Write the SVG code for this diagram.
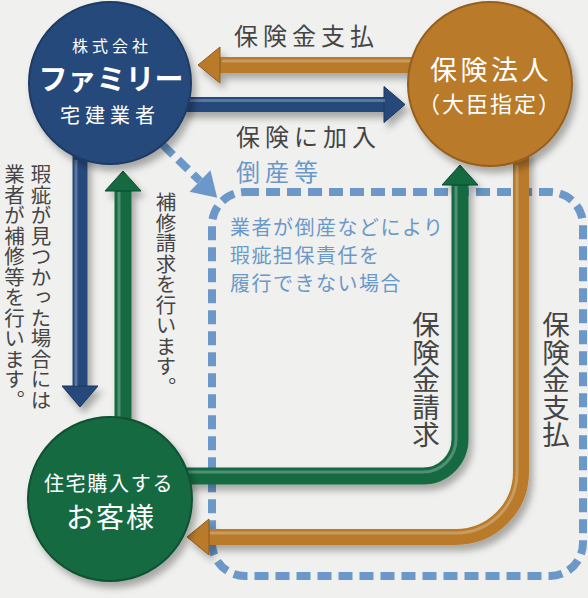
<svg xmlns="http://www.w3.org/2000/svg" width="588" height="598" viewBox="0 0 588 598">
<style>
text{font-family:"Noto Sans CJK JP","Noto Sans",sans-serif}
.lbl{fill:#454545;font-size:24px;letter-spacing:5px}
.blu{fill:#6b98c9}
.wht{fill:#ffffff;text-anchor:middle}
.vert{writing-mode:vertical-rl;fill:#454545}
.dash{fill:none;stroke:#6b98c9;stroke-width:8;stroke-dasharray:14 7}
.t-or{fill:none;stroke:#b97a2b;stroke-width:16}
.t-bl{fill:none;stroke:#284a7c;stroke-width:15}
.t-gr{fill:none;stroke:#146a42;stroke-width:17}
.hl{fill:none;stroke:#ffffff;stroke-opacity:0.25;stroke-width:3}
</style>
<defs>
<filter id="sh" x="-20%" y="-20%" width="150%" height="150%">
<feDropShadow dx="4" dy="6" stdDeviation="3.5" flood-color="#000" flood-opacity="0.3"/>
</filter>
<marker id="ah-or" markerUnits="userSpaceOnUse" orient="auto" refX="0" refY="0" markerWidth="30" markerHeight="40" overflow="visible">
<path d="M-1,-18 L21,0 L-1,18 z" fill="#b97a2b" stroke="#8a5a1c" stroke-width="1"/>
</marker>
<marker id="ah-bl" markerUnits="userSpaceOnUse" orient="auto" refX="0" refY="0" markerWidth="30" markerHeight="40" overflow="visible">
<path d="M-1,-18 L20,0 L-1,18 z" fill="#284a7c" stroke="#1b3458" stroke-width="1"/>
</marker>
<marker id="ah-gr" markerUnits="userSpaceOnUse" orient="auto" refX="0" refY="0" markerWidth="30" markerHeight="40" overflow="visible">
<path d="M-1,-18 L19,0 L-1,18 z" fill="#146a42" stroke="#0d4a2d" stroke-width="1"/>
</marker>
<marker id="ah-da" markerUnits="userSpaceOnUse" orient="auto" refX="0" refY="0" markerWidth="30" markerHeight="40" overflow="visible">
<path d="M0,-15 L24,0 L0,15 z" fill="#6b98c9"/>
</marker>
</defs>
<rect width="588" height="598" fill="#f0f0ee"/>

<g id="connectors">
<rect class="dash" x="212" y="192" width="371" height="384" rx="33"/>
<path class="dash" stroke-width="9" d="M163 145 L200 181" marker-end="url(#ah-da)"/>
<g filter="url(#sh)">
<path class="t-or" d="M420 65 H219" marker-end="url(#ah-or)"/>
<path class="t-bl" d="M180 104.5 H385" marker-end="url(#ah-bl)"/>
<path class="t-bl" stroke-width="16" d="M80 150 V387" marker-end="url(#ah-bl)"/>
<path class="t-gr" d="M123 430 V190" marker-end="url(#ah-gr)"/>
<path class="t-gr" stroke-width="16" d="M180 476 H423 A37 37 0 0 0 460 439 V184" marker-end="url(#ah-gr)"/>
<path class="t-or" d="M521 150 V472 A65 65 0 0 1 456 537 H208" marker-end="url(#ah-or)"/>
</g>
<path class="hl" d="M420 61 H222"/>
<path class="hl" d="M180 100.5 H385"/>
<path class="hl" d="M76 160 V386"/>
<path class="hl" d="M119 430 V192"/>
<path class="hl" d="M180 472 H423 A33 33 0 0 0 456 439 V186"/>
<path class="hl" d="M517 165 V472 A61 61 0 0 1 456 533 H210"/>
</g>

<g id="node-family">
<circle cx="110" cy="83" r="81" fill="#284a7c" stroke="#1d3a64" stroke-width="2" filter="url(#sh)"/>
<text class="wht" x="112" y="52" font-size="16" letter-spacing="4">株式会社</text>
<text class="wht" x="111" y="90" font-size="29" font-weight="bold">ファミリー</text>
<text class="wht" x="110" y="123" font-size="20" letter-spacing="5">宅建業者</text>
</g>

<g id="node-insurer">
<circle cx="490" cy="84" r="82" fill="#b97a2b" stroke="#96601f" stroke-width="2" filter="url(#sh)"/>
<text class="wht" x="491" y="80" font-size="27" letter-spacing="3.5">保険法人</text>
<text class="wht" x="490" y="112" font-size="22" letter-spacing="2">（大臣指定）</text>
</g>

<g id="node-customer">
<circle cx="110" cy="499" r="82" fill="#146a42" stroke="#0e5233" stroke-width="2" filter="url(#sh)"/>
<text class="wht" x="109" y="491" font-size="20" letter-spacing="1.7">住宅購入する</text>
<text class="wht" x="111" y="528" font-size="28" letter-spacing="2">お客様</text>
</g>

<g id="labels">
<text class="lbl" x="234" y="45">保険金支払</text>
<text class="lbl" x="236" y="146">保険に加入</text>
<text class="lbl blu" x="236" y="181" letter-spacing="3">倒産等</text>
<text class="blu" font-size="20" letter-spacing="1.5" x="230" y="235">業者が倒産などにより</text>
<text class="blu" font-size="20" letter-spacing="1.5" x="230" y="263">瑕疵担保責任を</text>
<text class="blu" font-size="20" letter-spacing="1.5" x="230" y="291">履行できない場合</text>
<text class="vert" x="41" y="164" font-size="20.5">瑕疵が見つかった場合には</text>
<text class="vert" x="14.5" y="164" font-size="20.5">業者が補修等を行います。</text>
<text class="vert" x="166" y="192" font-size="20.5">補修請求を行います。</text>
<text class="vert" x="426" y="311" font-size="27.5">保険金請求</text>
<text class="vert" x="556" y="311" font-size="27.5">保険金支払</text>
</g>
</svg>
